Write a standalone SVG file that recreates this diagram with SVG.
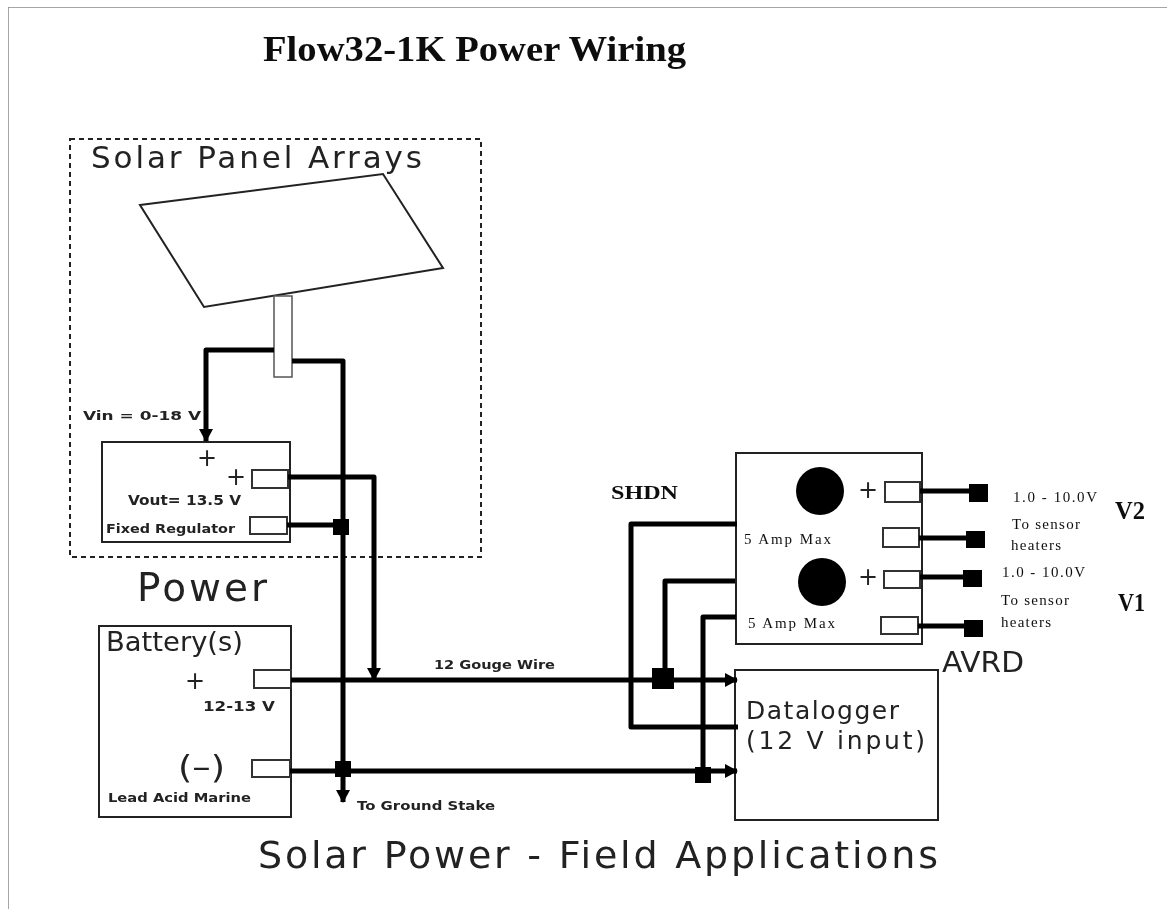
<svg xmlns="http://www.w3.org/2000/svg" width="1167" height="909" viewBox="0 0 1167 909">
<style>
.box{fill:#fff;stroke:#222;stroke-width:2}
.term{fill:#fff;stroke:#333;stroke-width:2}
.wire{fill:none;stroke:#000;stroke-width:5;stroke-linejoin:round}
.wa{marker-end:url(#arr)}
.dot{fill:#000}
text{font-family:"DejaVu Sans",Verdana,sans-serif;fill:#222;white-space:pre}
.b{font-weight:bold}
.s{font-family:"Liberation Serif","Times New Roman",serif;fill:#111}
</style>
<defs>
<marker id="arr" markerUnits="userSpaceOnUse" markerWidth="14" markerHeight="14" refX="12" refY="7" orient="auto"><path d="M0 0L13 7L0 14Z" fill="#000"/></marker>
<filter id="soft" x="0" y="0" width="100%" height="100%"><feGaussianBlur stdDeviation="0.45"/></filter>
</defs>
<rect width="1167" height="909" fill="#fff"/>
<g filter="url(#soft)">
<path d="M8 909V7H1167" fill="none" stroke="#888" stroke-width="1.5"/>
<text class="s b" x="263" y="61" font-size="36" textLength="423" lengthAdjust="spacingAndGlyphs">Flow32-1K Power Wiring</text>
<g id="solar-array">
<rect x="70" y="139" width="411" height="418" fill="none" stroke="#222" stroke-width="2" stroke-dasharray="5 4"/>
<text x="91" y="168" font-size="31" textLength="331">Solar Panel Arrays</text>
<path d="M140 205L383 174L443 268L204 307Z" fill="#fff" stroke="#222" stroke-width="2"/>
<rect x="274" y="296" width="18" height="81" fill="#fff" stroke="#555" stroke-width="1.5"/>
</g>
<g id="regulator">
<rect class="box" x="102" y="442" width="188" height="100"/>
<rect class="term" x="252" y="470" width="36" height="18"/>
<rect class="term" x="250" y="517" width="37" height="17"/>
<text x="197" y="466" font-size="24">+</text>
<text x="226" y="485" font-size="24">+</text>
<text class="b" x="128" y="505" font-size="14" textLength="113" lengthAdjust="spacingAndGlyphs">Vout= 13.5 V</text>
<text class="b" x="106" y="533" font-size="13" textLength="129" lengthAdjust="spacingAndGlyphs">Fixed Regulator</text>
</g>
<text class="b" x="83" y="420" font-size="13" textLength="118" lengthAdjust="spacingAndGlyphs">Vin = 0-18 V</text>
<text x="137" y="601" font-size="39" textLength="130">Power</text>
<g id="battery">
<rect class="box" x="99" y="626" width="192" height="191"/>
<rect class="term" x="254" y="670" width="37" height="18"/>
<rect class="term" x="252" y="760" width="38" height="17"/>
<text x="106" y="651" font-size="27" textLength="137" lengthAdjust="spacingAndGlyphs">Battery(s)</text>
<text x="185" y="689" font-size="24">+</text>
<text class="b" x="203" y="711" font-size="14" textLength="72" lengthAdjust="spacingAndGlyphs">12-13 V</text>
<text x="178" y="778" font-size="32" textLength="47" lengthAdjust="spacingAndGlyphs">(–)</text>
<text class="b" x="108" y="802" font-size="13" textLength="143" lengthAdjust="spacingAndGlyphs">Lead Acid Marine</text>
</g>
<g id="avrd">
<rect class="box" x="736" y="453" width="186" height="191"/>
<rect class="term" x="885" y="482" width="35" height="20"/>
<rect class="term" x="883" y="528" width="36" height="19"/>
<rect class="term" x="884" y="571" width="36" height="17"/>
<rect class="term" x="881" y="617" width="37" height="17"/>
<circle class="dot" cx="820" cy="491" r="24"/>
<circle class="dot" cx="822" cy="582" r="24"/>
<text x="858" y="498" font-size="24">+</text>
<text x="858" y="585" font-size="24">+</text>
<text class="s" x="744" y="544" font-size="15" textLength="87">5 Amp Max</text>
<text class="s" x="748" y="628" font-size="15" textLength="87">5 Amp Max</text>
<text x="942" y="672" font-size="29" textLength="82" lengthAdjust="spacingAndGlyphs">AVRD</text>
</g>
<g id="datalogger">
<rect class="box" x="735" y="670" width="203" height="150"/>
<text x="746" y="719" font-size="25" textLength="153">Datalogger</text>
<text x="746" y="749" font-size="25" textLength="179">(12 V input)</text>
</g>
<g id="connectors">
<path class="wire" d="M274 350H206V441" marker-end="url(#arr)"/>
<path class="wire wa" d="M292 361H343V802"/>
<path class="wire wa" d="M288 477H374V680"/>
<path class="wire" d="M287 525H343"/>
<path class="wire wa" d="M291 680H737"/>
<path class="wire wa" d="M290 771H737"/>
<path class="wire" d="M737 524H631V727H738"/>
<path class="wire" d="M735 581H665V678"/>
<path class="wire" d="M736 617H703V775"/>
<path class="wire" d="M920 491H975M919 538H972M920 577H970M918 626H970"/>
<rect class="dot" x="333" y="519" width="16" height="16"/>
<rect class="dot" x="335" y="761" width="16" height="16"/>
<rect class="dot" x="652" y="668" width="22" height="21"/>
<rect class="dot" x="695" y="767" width="16" height="16"/>
<rect class="dot" x="969" y="484" width="19" height="18"/>
<rect class="dot" x="966" y="531" width="19" height="17"/>
<rect class="dot" x="963" y="570" width="19" height="17"/>
<rect class="dot" x="964" y="620" width="19" height="17"/>
</g>
<text class="b" x="434" y="669" font-size="13" textLength="121" lengthAdjust="spacingAndGlyphs">12 Gouge Wire</text>
<text class="b" x="357" y="810" font-size="13" textLength="138" lengthAdjust="spacingAndGlyphs">To Ground Stake</text>
<text x="258" y="868" font-size="38" textLength="680">Solar Power - Field Applications</text>
<text class="s b" x="611" y="499" font-size="19" textLength="67" lengthAdjust="spacingAndGlyphs">SHDN</text>
<text class="s" x="1013" y="502" font-size="15" textLength="84">1.0 - 10.0V</text>
<text class="s" x="1012" y="529" font-size="15" textLength="68">To sensor</text>
<text class="s" x="1011" y="550" font-size="15" textLength="50">heaters</text>
<text class="s" x="1002" y="577" font-size="15" textLength="83">1.0 - 10.0V</text>
<text class="s" x="1001" y="605" font-size="15" textLength="68">To sensor</text>
<text class="s" x="1001" y="627" font-size="15" textLength="50">heaters</text>
<text class="s b" x="1115" y="519" font-size="26" textLength="30" lengthAdjust="spacingAndGlyphs">V2</text>
<text class="s b" x="1118" y="611" font-size="26" textLength="27" lengthAdjust="spacingAndGlyphs">V1</text>
</g>
</svg>
